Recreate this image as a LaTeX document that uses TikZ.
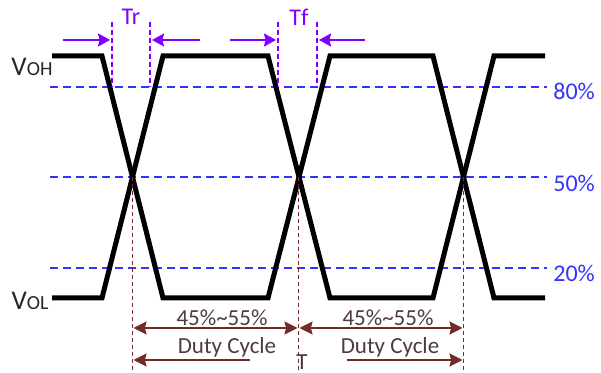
\documentclass[tikz,border=0pt]{standalone}
\usepackage{fontspec}
\setmainfont{Carlito}
\usepackage{xcolor}
\usepackage{tikz}
\usetikzlibrary{arrows.meta,calc,positioning}
\definecolor{edgeviolet}{RGB}{128,0,255}
\definecolor{levelblue}{RGB}{51,51,255}
\definecolor{dutybrown}{RGB}{114,44,44}
\definecolor{dutytext}{RGB}{78,58,66}

\begin{document}
\begin{tikzpicture}[
    x=0.5pt, y=-0.5pt,
    nosep/.style={inner sep=0},
    signal/.style={draw=black, line width=2.5pt},
    level/.style={draw=levelblue, line width=1pt, dash pattern=on 4pt off 2.5pt},
    edgemark/.style={draw=edgeviolet, line width=0.7pt, dash pattern=on 2.5pt off 1.5pt},
    edgearrow/.style={draw=edgeviolet, line width=1pt, -{Stealth[length=6pt, width=6.5pt, inset=0.8pt]}},
    cyclemark/.style={draw=dutybrown, line width=0.7pt, dash pattern=on 2pt off 1.5pt},
    cyclearrow/.style={draw=dutybrown, line width=1pt, -{Stealth[length=6.5pt, width=6.5pt, inset=0.8pt]}},
    cyclearrows/.style={draw=dutybrown, line width=1pt, {Stealth[length=6.5pt, width=6.5pt, inset=0.8pt]}-{Stealth[length=6.5pt, width=6.5pt, inset=0.8pt]}},
    pctlabel/.style={nosep, anchor=west, text=levelblue, font=\fontsize{12}{12}\selectfont},
    edgelabel/.style={nosep, text=edgeviolet, font=\fontsize{12}{12}\selectfont},
    cyclelabel/.style={nosep, text=dutytext, font=\fontsize{11.5}{12}\selectfont},
    voltlabel/.style={nosep, text=black!85}]
\useasboundingbox (0,0) rectangle (601,373);

\path[level] (50,87)  coordinate (L80a)  -- (547,87)  coordinate (L80b);
\path[level] (50,177) coordinate (L50a)  -- (547,177) coordinate (L50b);
\path[level] (50,268) coordinate (L20a)  -- (547,268) coordinate (L20b);

\path[signal] (52,56) -- (102,56) -- (163,298) -- (268,298) -- (330,56) -- (433,56) -- (494,298) -- (545,298);
\path[signal] (52,298) -- (102,298) -- (163,56) -- (268,56) -- (330,298) -- (433,298) -- (494,56) -- (545,56);

\node[voltlabel] (VOH) at (32,67) {{\fontsize{13.5}{14}\selectfont V}\fontsize{10}{10}\selectfont OH};
\node[voltlabel] (VOL) at (30,301) {{\fontsize{13.5}{14}\selectfont V}\fontsize{10}{10}\selectfont OL};

\node[pctlabel] (P80) at (553,91)  {80\%};
\node[pctlabel] (P50) at (553,183) {50\%};
\node[pctlabel] (P20) at (553,273) {20\%};

\coordinate (TrA) at (112,22);
\coordinate (TrB) at (150,22);
\coordinate (TfA) at (278,22);
\coordinate (TfB) at (317,22);
\path[edgemark] (TrA) -- (TrA |- L80a);
\path[edgemark] (TrB) -- (TrB |- L80a);
\path[edgemark] (TfA) -- (TfA |- L80a);
\path[edgemark] (TfB) -- (TfB |- L80a);
\node[edgelabel] (Tr) at (131,17) {Tr};
\node[edgelabel] (Tf) at (299,17) {Tf};
\coordinate (TrIn) at (63,40);
\coordinate (TrOut) at (200,40);
\coordinate (TfIn) at (230,40);
\coordinate (TfOut) at (365,40);
\path[edgearrow] (TrIn) -- ([xshift=-1pt]TrA |- TrIn);
\path[edgearrow] (TrOut) -- ([xshift=1pt]TrB |- TrOut);
\path[edgearrow] (TfIn) -- ([xshift=-1pt]TfA |- TfIn);
\path[edgearrow] (TfOut) -- ([xshift=1pt]TfB |- TfOut);

\coordinate (C1) at (132.5,177);
\coordinate (C2) at (298.5,177);
\coordinate (C3) at (463.5,177);
\path[cyclemark] (C1) -- (C1 |- 0,373);
\path[cyclemark] (C2) -- (C2 |- 0,373);
\path[cyclemark] (C3) -- (C3 |- 0,373);

\path[cyclearrows] ([xshift=0.5pt]C1 |- 0,328) -- ([xshift=-0.5pt]C2 |- 0,328);
\path[cyclearrows] ([xshift=0.5pt]C2 |- 0,328) -- ([xshift=-0.5pt]C3 |- 0,328);
\node[cyclelabel] (Duty1) at (222,318) {45\%\textasciitilde55\%};
\node[cyclelabel] (Duty2) at (388,318) {45\%\textasciitilde55\%};
\node[cyclelabel] (Cycle1) at (227,347) {Duty Cycle};
\node[cyclelabel] (Cycle2) at (390,347) {Duty Cycle};

\coordinate (PerL) at (250,360);
\coordinate (PerR) at (347,360);
\path[cyclearrow] (PerL) -- ([xshift=0.5pt]C1 |- PerL);
\path[cyclearrow] (PerR) -- ([xshift=-0.5pt]C3 |- PerR);
\node[cyclelabel, anchor=base] (Per) at (302,370) {T};

\end{tikzpicture}
\end{document}
